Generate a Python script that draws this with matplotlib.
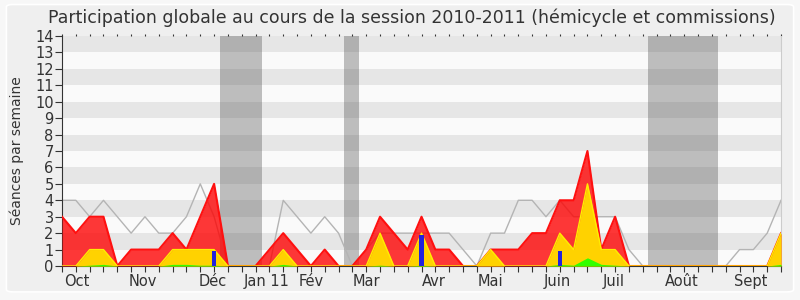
import matplotlib
matplotlib.use('Agg')
import matplotlib.pyplot as plt
from matplotlib.patches import FancyBboxPatch
import numpy as np

# one value per week of the session (53 weeks)
weeks = np.arange(53)
presences = [3, 2, 3, 3, 0, 1, 1, 1, 2, 1, 3, 5, 0, 0, 0, 1, 2, 1, 0, 1,
             0, 0, 1, 3, 2, 1, 3, 1, 1, 0, 0, 1, 1, 1, 2, 2, 4, 4, 7, 1,
             3, 0, 0, 0, 0, 0, 0, 0, 0, 0, 0, 0, 2]
participations = [0, 0, 1, 1, 0, 0, 0, 0, 1, 1, 1, 1, 0, 0, 0, 0, 1, 0, 0, 0,
                  0, 0, 0, 2, 0, 0, 2, 0, 0, 0, 0, 1, 0, 0, 0, 0, 2, 1, 5, 1,
                  1, 0, 0, 0, 0, 0, 0, 0, 0, 0, 0, 0, 2]
interventions = [0, 0, 0.05, 0.1, 0, 0, 0, 0, 0.1, 0.1, 0.05, 0.05, 0, 0, 0, 0, 0.1, 0, 0, 0,
                 0, 0, 0, 0.05, 0, 0, 0.05, 0, 0, 0, 0, 0, 0, 0, 0, 0, 0.1, 0.05, 0.5, 0.1,
                 0.05, 0, 0, 0, 0, 0, 0, 0, 0, 0, 0, 0, 0.1]
mediane = [4, 4, 3, 4, 3, 2, 3, 2, 2, 3, 5, 3, 0, 0, 0, 0, 4, 3, 2, 3,
           2, 0, 1, 2, 2, 2, 2, 2, 2, 1, 0, 2, 2, 4, 4, 3, 4, 3, 3, 3,
           3, 1, 0, 0, 0, 0, 0, 0, 0, 1, 1, 2, 4]
questions_x = [11, 26, 36]
questions_h = [0.9, 1.9, 0.9]
vacances = [(11.42, 14.46), (20.39, 21.47), (42.37, 47.43)]
mois = ['Oct', 'Nov', 'Déc', 'Jan 11', 'Fév', 'Mar', 'Avr', 'Mai', 'Juin', 'Juil', 'Août', 'Sept']
mois_pos = [1.05, 5.85, 10.9, 14.8, 18.0, 22.0, 26.9, 31.0, 35.8, 39.9, 44.8, 49.8]

fig = plt.figure(figsize=(8, 3), dpi=100)
fig.patch.set_facecolor('#f7f7f7')
cadre = FancyBboxPatch((0.008, 0.027), 0.984, 0.958, boxstyle='round,pad=0,rounding_size=0.008',
                       transform=fig.transFigure, facecolor='#efefef', edgecolor='#ffffff',
                       linewidth=1.2, zorder=-5)
fig.patches.append(cadre)
ax = fig.add_axes([0.0775, 0.1133, 0.8988, 0.7667])
ax.set_zorder(2)
ax.set_facecolor('#fafafa')

for k in range(1, 14, 2):
    ax.axhspan(k, k + 1, color='#e6e6e6', lw=0, zorder=0)
for a, b in vacances:
    ax.axvspan(a, b, color='#4c4c4c', alpha=0.35, lw=0, zorder=1)

ax.plot(weeks, mediane, color='#b4b4b4', lw=1, zorder=2)
ax.fill_between(weeks, presences, color='#ff0000', alpha=0.78, lw=0, zorder=3)
ax.plot(weeks, presences, color='#ff1010', lw=1.5, zorder=3)
ax.fill_between(weeks, participations, color='#ffd200', lw=0, zorder=4)
ax.plot(weeks, participations, color='#ffee00', lw=1, zorder=4)
ax.fill_between(weeks, interventions, color='#33ff00', lw=0, zorder=5)
ax.bar(questions_x, questions_h, width=0.3, color='#2222dd', zorder=6)

ax.set_xlim(0, 52)
ax.set_ylim(0, 14)
ax.set_yticks(range(15))
ax.tick_params(axis='y', labelsize=10.5, length=5, color='#333333', labelcolor='#333333', pad=1)
ax.set_xticks(weeks)
ax.set_xticklabels([])
ax.tick_params(axis='x', which='major', bottom=True, length=4, color='#333333')
ax.tick_params(axis='x', top=True, labeltop=False)
for t in ax.xaxis.get_major_ticks():
    t.tick2line.set_markersize(1.5)
for m, p in zip(mois, mois_pos):
    ax.text(p, -0.5, m, ha='center', va='top', fontsize=10.5, color='#333333')

ax.spines['top'].set_visible(False)
ax.spines['right'].set_color('#cccccc')
ax.spines['left'].set_color('#333333')
ax.spines['bottom'].set_color('#333333')
ax.set_ylabel('Séances par semaine', fontsize=10, color='#333333', labelpad=8)
fig.text(0.515, 0.94, 'Participation globale au cours de la session 2010-2011 (hémicycle et commissions)',
         ha='center', va='center', fontsize=12.5, color='#333333')

fig.savefig('out.png', dpi=100, facecolor=fig.get_facecolor())
